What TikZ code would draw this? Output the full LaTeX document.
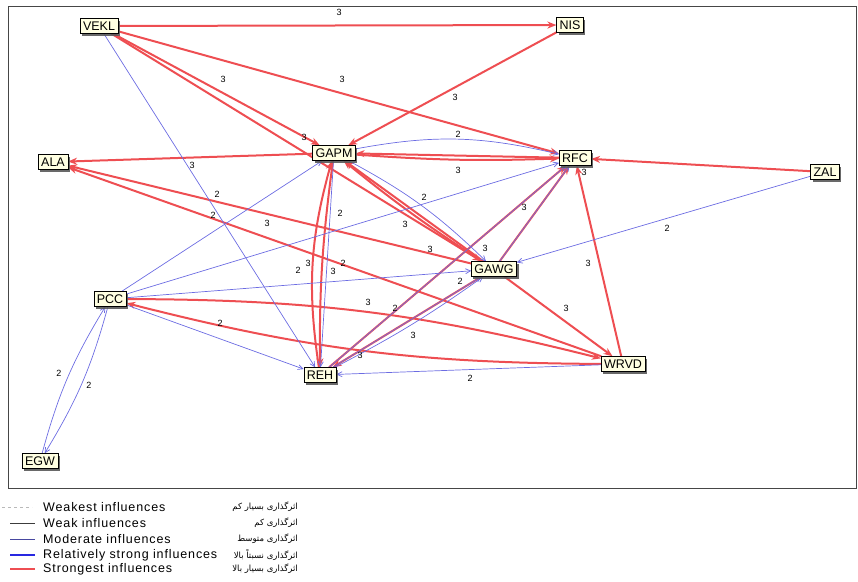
\documentclass[tikz,border=0pt]{standalone}
\usepackage{fontspec}
\setmainfont{Liberation Sans}
\newfontfamily\legfont[LetterSpace=7]{Liberation Sans}
\newfontfamily\farsifont[Script=Arabic]{DejaVu Sans}
\TeXXeTstate=1
\usepackage{tikz}
\usetikzlibrary{arrows.meta, shadows, backgrounds}
\definecolor{strongred}{RGB}{238,78,82}
\definecolor{modblue}{RGB}{108,108,226}
\definecolor{nodecream}{RGB}{255,255,226}
\definecolor{framegray}{RGB}{70,70,70}
\definecolor{leggray}{RGB}{185,185,185}
\definecolor{legdark}{RGB}{60,60,60}
\definecolor{legmod}{RGB}{72,72,160}
\definecolor{legrel}{RGB}{40,40,225}

\begin{document}
\begin{tikzpicture}[x=1pt, y=-1pt,
  var/.style={draw=black, fill=nodecream, inner xsep=3pt, inner ysep=2pt, minimum height=15pt,
    font=\fontsize{12.5}{12.5}\selectfont,
    drop shadow={shadow xshift=2pt, shadow yshift=-2pt, fill=black!65, opacity=.9}},
  strong/.style={draw=strongred, line width=2pt, -{Stealth[length=9pt, width=7pt]}},
  moderate/.style={draw=modblue, line width=.7pt, -{Straight Barb[length=5pt, width=5pt]}},
  wt/.style={font=\fontsize{9}{9}\selectfont, inner sep=0pt},
  legtxt/.style={anchor=west, font=\legfont\fontsize{12.5}{12.5}\selectfont, inner sep=0pt},
  fatxt/.style={anchor=east, font=\farsifont\fontsize{8.5}{8.5}\selectfont, inner sep=0pt}]

\useasboundingbox (0,0) rectangle (858,581);
\draw[framegray, line width=1pt] (8,6) rectangle (856,488);

%% variables
\node[var] (VEKL) at (99,26)   {VEKL};
\node[var] (NIS)  at (570,25)  {NIS};
\node[var] (GAPM) at (334,153) {GAPM};
\node[var] (RFC)  at (575,158) {RFC};
\node[var] (ALA)  at (53,162)  {ALA};
\node[var] (ZAL)  at (825,172) {ZAL};
\node[var] (GAWG) at (494,269) {GAWG};
\node[var] (PCC)  at (110,299) {PCC};
\node[var] (WRVD) at (623,364) {WRVD};
\node[var] (REH)  at (320,375) {REH};
\node[var] (EGW)  at (40,461)  {EGW};

\begin{scope}[on background layer]
%% strongest influences
\draw[strong] (VEKL) -- (NIS);
\draw[strong] (VEKL) -- (GAPM);
\draw[strong] (VEKL) -- (GAWG);
\draw[strong] (VEKL) -- (RFC);
\draw[strong] (NIS) -- (GAPM);
\draw[strong] (GAPM) -- (ALA);
\draw[strong] (RFC) -- (GAPM);
\draw[strong] (GAPM) to[bend right=3] (RFC);
\draw[strong] (ZAL) -- (RFC);
\draw[strong] (WRVD) -- (RFC);
\draw[strong] (GAWG) -- (RFC);
\draw[strong] (REH) -- (RFC);
\draw[strong] (GAWG) -- (GAPM);
\draw[strong] (GAWG) to[bend left=3] (GAPM);
\draw[strong] (GAWG) -- (ALA);
\draw[strong] (WRVD) -- (ALA);
\draw[strong] (GAWG) -- (WRVD);
\draw[strong] (REH) to[bend left=12] (GAPM);
\draw[strong] (GAPM) to[bend right=4] (REH);
\draw[strong] (GAWG) -- (REH);
\draw[strong] (PCC) to[bend left=7] (WRVD);
\draw[strong] (WRVD) to[bend left=7] (PCC);

%% moderate influences
\draw[moderate] (VEKL) -- (REH);
\draw[moderate] (GAPM) to[bend left=12] (RFC);
\draw[moderate] (PCC) -- (GAPM);
\draw[moderate] (PCC) -- (RFC);
\draw[moderate] (PCC) -- (GAWG);
\draw[moderate] (PCC) -- (REH);
\draw[moderate] (ZAL) -- (GAWG);
\draw[moderate] (GAPM) -- (REH);
\draw[moderate] (GAPM) to[bend left=8] (GAWG);
\draw[moderate] (REH) -- (GAWG);
\draw[moderate] (REH) to[bend right=4] (GAWG);
\draw[moderate] (REH) -- (RFC);
\draw[moderate] (GAWG) -- (RFC);
\draw[moderate] (WRVD) -- (REH);
\draw[moderate] (EGW) to[bend left=8] (PCC);
\draw[moderate] (PCC) to[bend left=8] (EGW);
\end{scope}

%% weights
\foreach \x/\y/\t [count=\i] in {339/12/3, 223/79/3, 342/79/3, 455/97/3, 304/137/3,
    458/134/2, 458/170/3, 584/172/3, 192/165/3, 217/194/2, 213/215/2, 267/223/3,
    424/197/2, 405/224/3, 340/213/2, 524/207/3, 667/228/2, 485/248/3, 430/249/3,
    588/263/3, 298/270/2, 308/263/3, 333/271/3, 343/263/2, 460/281/2, 368/302/3,
    395/308/2, 566/308/3, 220/323/2, 413/335/3, 360/355/3, 470/378/2, 59/373/2, 89/385/2}
  \node[wt] (w\i) at (\x,\y) {\t};

%% legend
\draw[leggray, line width=.6pt, dashed] (2,507) -- (32,507);
\draw[legdark, line width=.6pt] (10,523) -- (35,523);
\draw[legmod, line width=.8pt] (10,539) -- (35,539);
\draw[legrel, line width=1.4pt] (10,555) -- (35,555);
\draw[strongred, line width=1.6pt] (10,569) -- (35,569);
\node[legtxt] (lg1) at (43,507) {Weakest influences};
\node[legtxt] (lg2) at (43,523) {Weak influences};
\node[legtxt] (lg3) at (43,539) {Moderate influences};
\node[legtxt] (lg4) at (43,555) {Relatively strong influences};
\node[legtxt] (lg5) at (43,569) {Strongest influences};
\node[fatxt] (fa1) at (298,507) {\beginR اثرگذاری بسیار کم\endR};
\node[fatxt] (fa2) at (298,523) {\beginR اثرگذاری کم\endR};
\node[fatxt] (fa3) at (298,539) {\beginR اثرگذاری متوسط\endR};
\node[fatxt] (fa4) at (298,555) {\beginR اثرگذاری نسبتاً بالا\endR};
\node[fatxt] (fa5) at (298,569) {\beginR اثرگذاری بسیار بالا\endR};
\end{tikzpicture}
\end{document}
